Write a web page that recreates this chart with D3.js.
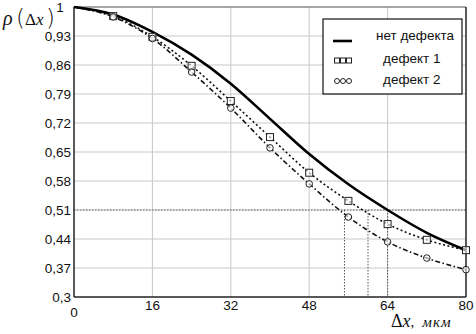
<!DOCTYPE html>
<html><head><meta charset="utf-8">
<script src="https://cdn.jsdelivr.net/npm/d3@7"></script>
<style>body{margin:0;background:#fff}svg{display:block}</style>
</head><body><svg id="c" width="476" height="334"></svg>
<script>
const xs = [0, 8, 16, 24, 32, 40, 48, 56, 64, 72, 80];
const noDefect = [1, 0.982, 0.94, 0.885, 0.815, 0.73, 0.645, 0.572, 0.51, 0.455, 0.413];
const defect1 = [1, 0.978, 0.928, 0.858, 0.773, 0.686, 0.6, 0.532, 0.476, 0.438, 0.413];
const defect2 = [1, 0.976, 0.924, 0.843, 0.756, 0.66, 0.573, 0.493, 0.433, 0.394, 0.366];
const yTicks = [0.3, 0.37, 0.44, 0.51, 0.58, 0.65, 0.72, 0.79, 0.86, 0.93, 1];
const xTicks = [0, 16, 32, 48, 64, 80];
const legendLabels = ["нет дефекта", "дефект 1", "дефект 2"];
const refLevel = 0.51;
const refX = [55.2, 60, 64];

const svg = d3.select("#c");
const L = 74, R = 466, T = 7, B = 297;
const x = d3.scaleLinear().domain([0, 80]).range([L, R]);
const y = d3.scaleLinear().domain([0.3, 1]).range([B, T]);
const font = "Liberation Sans, Arial, sans-serif";
const serif = "Liberation Serif, Times New Roman, serif";

// grid
svg.append("g").selectAll("line").data(xTicks.slice(1, -1)).join("line")
  .attr("x1", d => x(d)).attr("x2", d => x(d)).attr("y1", T).attr("y2", B)
  .attr("stroke", "#c8c8c8").attr("stroke-width", 1);
svg.append("g").selectAll("line").data(yTicks.slice(1, -1)).join("line")
  .attr("x1", L).attr("x2", R).attr("y1", d => y(d)).attr("y2", d => y(d))
  .attr("stroke", "#c8c8c8").attr("stroke-width", 1);

// reference dotted lines
svg.append("line").attr("x1", L).attr("x2", R).attr("y1", y(refLevel)).attr("y2", y(refLevel))
  .attr("stroke", "#666").attr("stroke-width", 1).attr("stroke-dasharray", "1.5,1.5");
svg.append("g").selectAll("line").data(refX).join("line")
  .attr("x1", d => x(d)).attr("x2", d => x(d)).attr("y1", y(refLevel)).attr("y2", B)
  .attr("stroke", "#555").attr("stroke-width", 1).attr("stroke-dasharray", "1.5,1.5");

// frame
svg.append("line").attr("x1", L).attr("x2", R).attr("y1", T).attr("y2", T).attr("stroke", "#888").attr("stroke-width", 1.5);
svg.append("line").attr("x1", R).attr("x2", R).attr("y1", T).attr("y2", B).attr("stroke", "#222").attr("stroke-width", 1.5);
svg.append("line").attr("x1", L).attr("x2", R).attr("y1", B).attr("y2", B).attr("stroke", "#222").attr("stroke-width", 1.5);
svg.append("line").attr("x1", L).attr("x2", L).attr("y1", T).attr("y2", B).attr("stroke", "#222").attr("stroke-width", 1.5);

const line = d3.line().x((d, i) => x(xs[i])).y(d => y(d)).curve(d3.curveMonotoneX);

svg.append("path").attr("d", line(defect2)).attr("fill", "none").attr("stroke", "#111")
  .attr("stroke-width", 1.6).attr("stroke-dasharray", "5,2.5,1.5,2.5");
svg.append("path").attr("d", line(defect1)).attr("fill", "none").attr("stroke", "#111")
  .attr("stroke-width", 1.6).attr("stroke-dasharray", "2,2.5");
svg.append("path").attr("d", line(noDefect)).attr("fill", "none").attr("stroke", "#000")
  .attr("stroke-width", 2.6);

svg.append("g").selectAll("rect").data(defect1.slice(1)).join("rect")
  .attr("x", (d, i) => x(xs[i + 1]) - 3.5).attr("y", d => y(d) - 3.5)
  .attr("width", 7).attr("height", 7).attr("fill", "#fff").attr("fill-opacity", 0.6)
  .attr("stroke", "#222").attr("stroke-width", 1);
svg.append("g").selectAll("circle").data(defect2.slice(1)).join("circle")
  .attr("cx", (d, i) => x(xs[i + 1])).attr("cy", d => y(d)).attr("r", 3.3)
  .attr("fill", "#fff").attr("fill-opacity", 0.6).attr("stroke", "#222").attr("stroke-width", 1);

// y tick labels
svg.append("g").selectAll("text").data(yTicks.slice(0, -1)).join("text")
  .attr("x", 71).attr("y", d => y(d) + 5).attr("text-anchor", "end")
  .attr("font-family", font).attr("font-size", 13.5).attr("fill", "#111")
  .text(d => String(d).replace(".", ","));
svg.append("text").attr("x", 60).attr("y", 12).attr("text-anchor", "middle")
  .attr("font-family", font).attr("font-size", 13.5).attr("fill", "#111").text("1");

// x tick labels
svg.append("g").selectAll("text").data(xTicks).join("text")
  .attr("x", d => x(d)).attr("y", d => d === 0 ? 317 : 310).attr("text-anchor", "middle")
  .attr("font-family", font).attr("font-size", 13.5).attr("fill", "#111")
  .text(d => d);

// axis titles
svg.append("text").attr("x", 3).attr("y", 25).attr("font-family", serif).attr("font-style", "italic")
  .attr("font-size", 20).attr("fill", "#111").text("ρ");
svg.append("text").attr("x", 16).attr("y", 26).attr("font-family", "DejaVu Sans, sans-serif")
  .attr("font-weight", 200).attr("font-size", 23).attr("fill", "#111").text("(");
const yt = svg.append("text").attr("x", 25).attr("y", 25).attr("font-family", serif).attr("fill", "#111");
yt.append("tspan").attr("font-size", 17).text("Δ");
yt.append("tspan").attr("font-size", 17).attr("font-style", "italic").text("x");
svg.append("text").attr("x", 46).attr("y", 26).attr("font-family", "DejaVu Sans, sans-serif")
  .attr("font-weight", 200).attr("font-size", 23).attr("fill", "#111").text(")");

const xt = svg.append("text").attr("x", 391).attr("y", 327).attr("font-family", serif).attr("fill", "#111");
xt.append("tspan").attr("font-size", 18).text("Δ");
xt.append("tspan").attr("font-size", 18).attr("font-style", "italic").text("x");
xt.append("tspan").attr("font-size", 15).text(",");
xt.append("tspan").attr("font-size", 15).attr("font-style", "italic").attr("dx", 8).attr("letter-spacing", 1).text("мкм");

// legend
const lg = svg.append("g");
lg.append("rect").attr("x", 323).attr("y", 19).attr("width", 139).attr("height", 75)
  .attr("fill", "#fff").attr("stroke", "#111").attr("stroke-width", 1.2);
lg.append("line").attr("x1", 333).attr("x2", 352).attr("y1", 41).attr("y2", 41).attr("stroke", "#000").attr("stroke-width", 2.6);
[337, 343, 349].forEach(cx => {
  lg.append("rect").attr("x", cx - 2.5).attr("y", 58).attr("width", 5).attr("height", 5).attr("fill", "#fff").attr("stroke", "#222").attr("stroke-width", 1);
  lg.append("circle").attr("cx", cx).attr("cy", 81).attr("r", 2.5).attr("fill", "#fff").attr("stroke", "#222").attr("stroke-width", 1);
});
const ly = [40, 63, 84];
const lx = [376, 383, 383];
legendLabels.forEach((t, i) => {
  lg.append("text").attr("x", lx[i]).attr("y", ly[i]).attr("font-family", font).attr("font-size", 13.5).attr("fill", "#111").text(t);
});
</script></body></html>
